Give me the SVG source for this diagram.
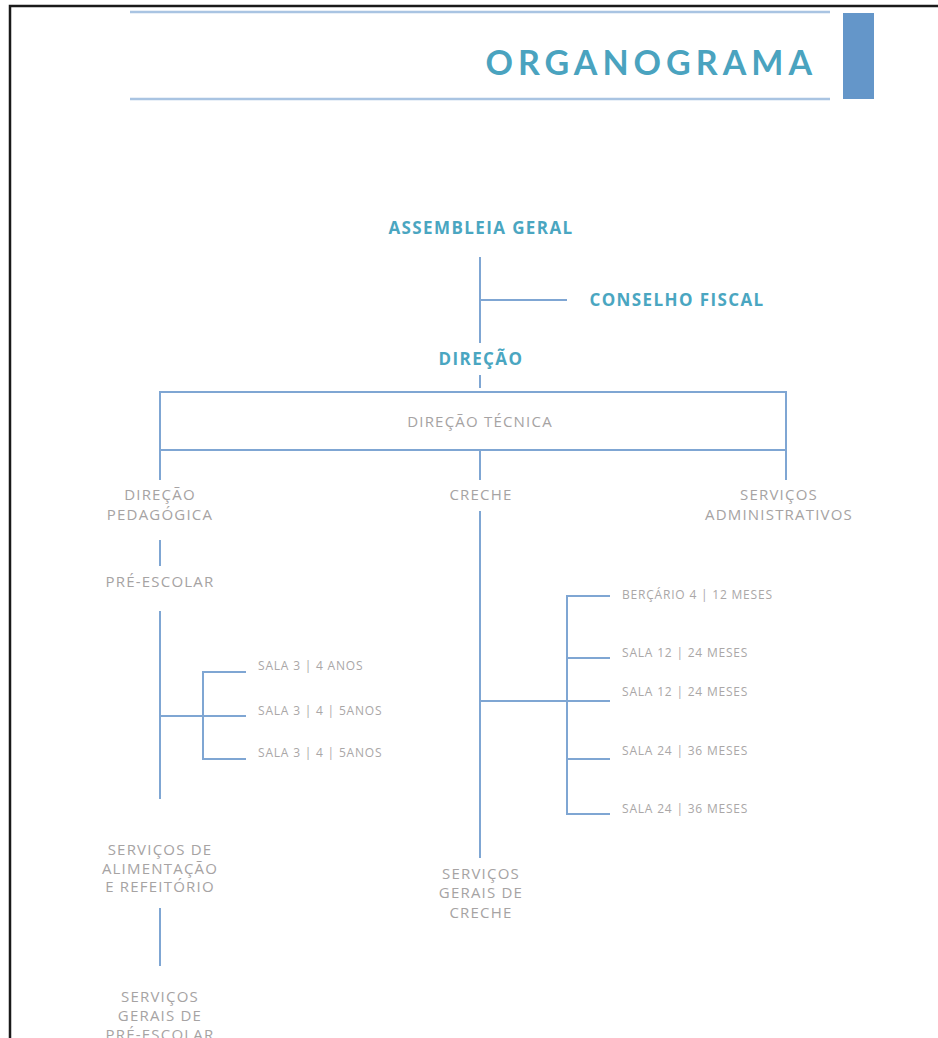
<svg xmlns="http://www.w3.org/2000/svg" width="938" height="1038" viewBox="0 0 938 1038">
<style>
.ln{stroke:#7fa6d3;stroke-width:2;fill:none}
.hd{fill:#4aa6c1;font-family:"Open Sans","Liberation Sans",sans-serif;font-weight:700;font-size:17px;text-anchor:middle;letter-spacing:1.4px}
.gt{fill:#a6a3a3;font-family:"Open Sans","Liberation Sans",sans-serif;font-size:15px;text-anchor:middle;letter-spacing:1.2px}
.sm{fill:#aaa7a7;font-family:"Open Sans","Liberation Sans",sans-serif;font-size:12px;letter-spacing:0.8px}
</style>
<rect width="938" height="1038" fill="#fff"/>
<path d="M10 1038V6H938" stroke="#1a1a1a" stroke-width="2.5" fill="none"/>
<g id="header">
<line x1="130" y1="12" x2="830" y2="12" stroke="#a9c4e2" stroke-width="2.5"/>
<line x1="130" y1="99" x2="830" y2="99" stroke="#a9c4e2" stroke-width="2.5"/>
<rect x="843" y="13" width="31" height="86" fill="#6496c9"/>
<text x="817" y="75" text-anchor="end" fill="#4aa3bf" font-family="Lato,'Open Sans',sans-serif" font-weight="700" font-size="34" letter-spacing="5">ORGANOGRAMA</text>
</g>
<g id="connectors">
<line class="ln" x1="480" y1="257" x2="480" y2="343"/>
<line class="ln" x1="480" y1="300" x2="567" y2="300"/>
<line class="ln" x1="480" y1="375" x2="480" y2="388"/>
<rect class="ln" x="160" y="392" width="626" height="58"/>
<line class="ln" x1="160" y1="450" x2="160" y2="480"/>
<line class="ln" x1="480" y1="450" x2="480" y2="480"/>
<line class="ln" x1="786" y1="450" x2="786" y2="480"/>
<line class="ln" x1="160" y1="540" x2="160" y2="566"/>
<line class="ln" x1="160" y1="611" x2="160" y2="799"/>
<line class="ln" x1="160" y1="716" x2="246" y2="716"/>
<path class="ln" d="M246 672H203V759H246"/>
<line class="ln" x1="480" y1="511" x2="480" y2="858"/>
<line class="ln" x1="480" y1="701" x2="610" y2="701"/>
<path class="ln" d="M610 596H567V814H610"/>
<line class="ln" x1="567" y1="658" x2="610" y2="658"/>
<line class="ln" x1="567" y1="759" x2="610" y2="759"/>
<line class="ln" x1="160" y1="908" x2="160" y2="966"/>
</g>
<g id="assembleia"><text class="hd" x="481" y="234">ASSEMBLEIA GERAL</text></g>
<g id="conselho"><text class="hd" x="677" y="306">CONSELHO FISCAL</text></g>
<g id="direcao"><text class="hd" x="481" y="365">DIREÇÃO</text></g>
<g id="direcao-tecnica"><text class="gt" x="480" y="427">DIREÇÃO TÉCNICA</text></g>
<g id="direcao-pedagogica"><text class="gt" x="160" y="500">DIREÇÃO</text><text class="gt" x="160" y="520">PEDAGÓGICA</text></g>
<g id="creche"><text class="gt" x="481" y="500">CRECHE</text></g>
<g id="servicos-adm"><text class="gt" x="779" y="500">SERVIÇOS</text><text class="gt" x="779" y="520">ADMINISTRATIVOS</text></g>
<g id="pre-escolar"><text class="gt" x="160" y="587">PRÉ-ESCOLAR</text></g>
<g id="sala-a"><text class="sm" x="258" y="670">SALA 3 | 4 ANOS</text></g>
<g id="sala-b"><text class="sm" x="258" y="715">SALA 3 | 4 | 5ANOS</text></g>
<g id="sala-c"><text class="sm" x="258" y="757">SALA 3 | 4 | 5ANOS</text></g>
<g id="bercario"><text class="sm" x="622" y="599">BERÇÁRIO 4 | 12 MESES</text></g>
<g id="sala-12a"><text class="sm" x="622" y="657">SALA 12 | 24 MESES</text></g>
<g id="sala-12b"><text class="sm" x="622" y="696">SALA 12 | 24 MESES</text></g>
<g id="sala-24a"><text class="sm" x="622" y="755">SALA 24 | 36 MESES</text></g>
<g id="sala-24b"><text class="sm" x="622" y="813">SALA 24 | 36 MESES</text></g>
<g id="alimentacao"><text class="gt" x="160" y="855">SERVIÇOS DE</text><text class="gt" x="160" y="874">ALIMENTAÇÃO</text><text class="gt" x="160" y="892">E REFEITÓRIO</text></g>
<g id="servicos-creche"><text class="gt" x="481" y="879">SERVIÇOS</text><text class="gt" x="481" y="898">GERAIS DE</text><text class="gt" x="481" y="918">CRECHE</text></g>
<g id="servicos-pre"><text class="gt" x="160" y="1002">SERVIÇOS</text><text class="gt" x="160" y="1021">GERAIS DE</text><text class="gt" x="160" y="1040">PRÉ-ESCOLAR</text></g>
</svg>
